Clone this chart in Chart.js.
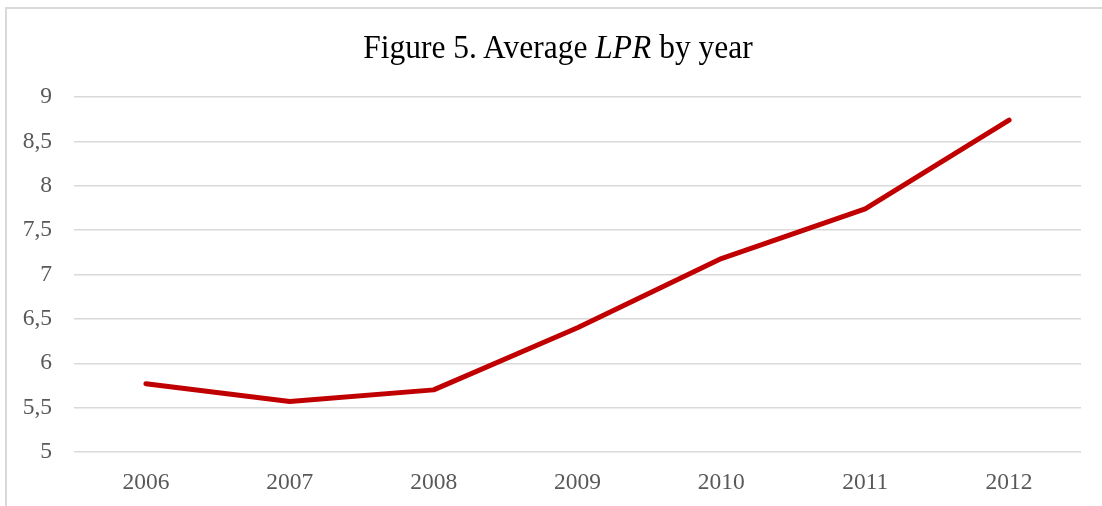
<!DOCTYPE html>
<html>
<head>
<meta charset="utf-8">
<script src="https://cdn.jsdelivr.net/npm/chart.js@4/dist/chart.umd.min.js"></script>
<style>
  html, body { margin: 0; padding: 0; background: #fff; overflow: hidden; }
  #wrap { position: relative; width: 1102px; height: 506px; }
  #frame { position: absolute; left: 5px; top: 7px; width: 1200px; height: 600px;
           border-top: 2px solid #d9d9d9; border-left: 2px solid #d9d9d9; box-sizing: border-box; }
  #title { position: absolute; left: 7px; top: 32px; width: 1102px; text-align: center;
           font-family: "Liberation Serif", "Times New Roman", serif; font-size: 31.5px; line-height: 31px;
           color: #000; white-space: nowrap; transform: scaleY(1.04); transform-origin: 50% 80%; }
  canvas { position: absolute; left: 0; top: 0; }
</style>
</head>
<body>
<div id="wrap">
  <div id="frame"></div>
  <canvas id="c" width="1102" height="506"></canvas>
  <div id="title">Figure 5. Average <i>LPR</i> by year</div>
</div>
<script>
const years = ["2006", "2007", "2008", "2009", "2010", "2011", "2012"];
const avgLPR = [5.77, 5.57, 5.70, 6.40, 7.18, 7.74, 8.74];
const yMin = 5, yMax = 9, yStep = 0.5;

const serif = "'Liberation Serif', 'Times New Roman', serif";

new Chart(document.getElementById('c'), {
  type: 'line',
  data: {
    labels: years,
    datasets: [{
      label: 'Average LPR',
      data: avgLPR,
      borderColor: '#c00000',
      backgroundColor: '#c00000',
      borderWidth: 5,
      borderCapStyle: 'round',
      borderJoinStyle: 'round',
      pointRadius: 0,
      tension: 0,
      fill: false
    }]
  },
  options: {
    responsive: false,
    animation: false,
    layout: { padding: { top: 97, right: 21, bottom: 0, left: 0 } },
    plugins: {
      legend: { display: false },
      title: { display: false },
      tooltip: { enabled: false }
    },
    scales: {
      x: {
        offset: true,
        grid: { display: false, drawTicks: false },
        border: { display: false },
        ticks: { color: '#595959', font: { family: serif, size: 23.5 }, padding: 17, maxRotation: 0 },
        afterFit: (s) => { s.height = 54; }
      },
      y: {
        min: yMin, max: yMax,
        grid: { color: '#d9d9d9', lineWidth: 1.5, drawTicks: false },
        border: { display: false },
        ticks: {
          stepSize: yStep,
          color: '#595959',
          font: { family: serif, size: 23.5 },
          padding: 22,
          callback: (v) => String(v).replace('.', ',')
        },
        afterFit: (s) => { s.width = 74; }
      }
    }
  }
});
</script>
</body>
</html>
